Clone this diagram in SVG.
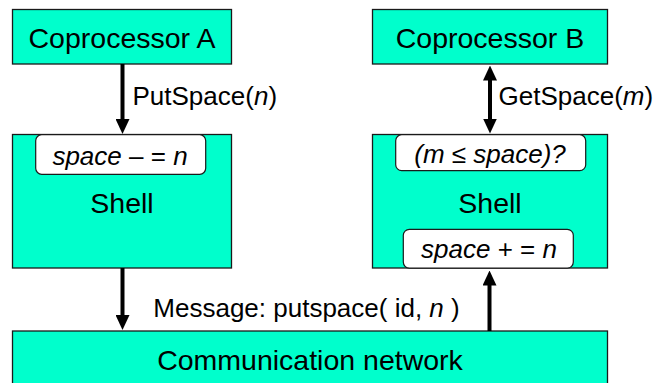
<svg xmlns="http://www.w3.org/2000/svg" width="653" height="383" viewBox="0 0 653 383">
<style>
.box{fill:#00FFCC;stroke:#1a1a1a;stroke-width:1.3}
.inner{fill:#fff;stroke:#1a1a1a;stroke-width:1.2}
.t{font-family:"Liberation Sans",Arial,sans-serif;fill:#000}
.big{font-size:28.5px}
.lbl{font-size:26px}
.i{font-style:italic}
.conn{stroke:#000;stroke-width:4;fill:none}
</style>
<defs>
<marker id="ah" viewBox="0 -7 15 14" markerWidth="15" markerHeight="14" refX="1" refY="0" orient="auto-start-reverse" markerUnits="userSpaceOnUse">
<path d="M0,-7 L15,0 L0,7 z" fill="#000"/>
</marker>
</defs>
<rect width="653" height="383" fill="#fff"/>
<g id="coprocA">
<rect class="box" x="12.5" y="9.5" width="219" height="54.5"/>
<text class="t big" x="122" y="47.5" text-anchor="middle">Coprocessor A</text>
</g>
<g id="coprocB">
<rect class="box" x="372.5" y="9.5" width="235" height="54.5"/>
<text class="t big" x="490" y="47.5" text-anchor="middle">Coprocessor B</text>
</g>
<g id="shellA">
<rect class="box" x="12.5" y="134.5" width="219" height="133.5"/>
<rect class="inner" x="35.7" y="134.7" width="170" height="39.6" rx="6"/>
<text class="t lbl" x="120" y="164.5" text-anchor="middle"><tspan class="i">space</tspan> – = <tspan class="i">n</tspan></text>
<text class="t big" x="122" y="213.3" text-anchor="middle">Shell</text>
</g>
<g id="shellB">
<rect class="box" x="372.5" y="134.5" width="235" height="133.5"/>
<rect class="inner" x="395.7" y="134.7" width="190" height="36" rx="6"/>
<text class="t lbl i" x="490" y="163.3" text-anchor="middle">(m ≤ space)?</text>
<text class="t big" x="490" y="213.3" text-anchor="middle">Shell</text>
<rect class="inner" x="403.3" y="229.3" width="170" height="38.8" rx="6"/>
<text class="t lbl" x="489" y="258.3" text-anchor="middle"><tspan class="i">space</tspan> + = <tspan class="i">n</tspan></text>
</g>
<g id="network">
<rect class="box" x="12.5" y="331" width="595" height="60"/>
<text class="t big" x="310" y="370" text-anchor="middle">Communication network</text>
</g>
<g id="connectors">
<line class="conn" x1="122.5" y1="64" x2="122.5" y2="120" marker-end="url(#ah)"/>
<line class="conn" x1="490" y1="79.5" x2="490" y2="119.5" marker-start="url(#ah)" marker-end="url(#ah)"/>
<line class="conn" x1="122.5" y1="268" x2="122.5" y2="316" marker-end="url(#ah)"/>
<line class="conn" x1="489.5" y1="331" x2="489.5" y2="284.5" marker-end="url(#ah)"/>
<text class="t lbl" x="132.5" y="104.5">PutSpace(<tspan class="i">n</tspan>)</text>
<text class="t lbl" x="498.5" y="104.5">GetSpace(<tspan class="i">m</tspan>)</text>
<text class="t lbl" x="153.3" y="316.7">Message: putspace( id, <tspan class="i">n</tspan> )</text>
</g>
</svg>
